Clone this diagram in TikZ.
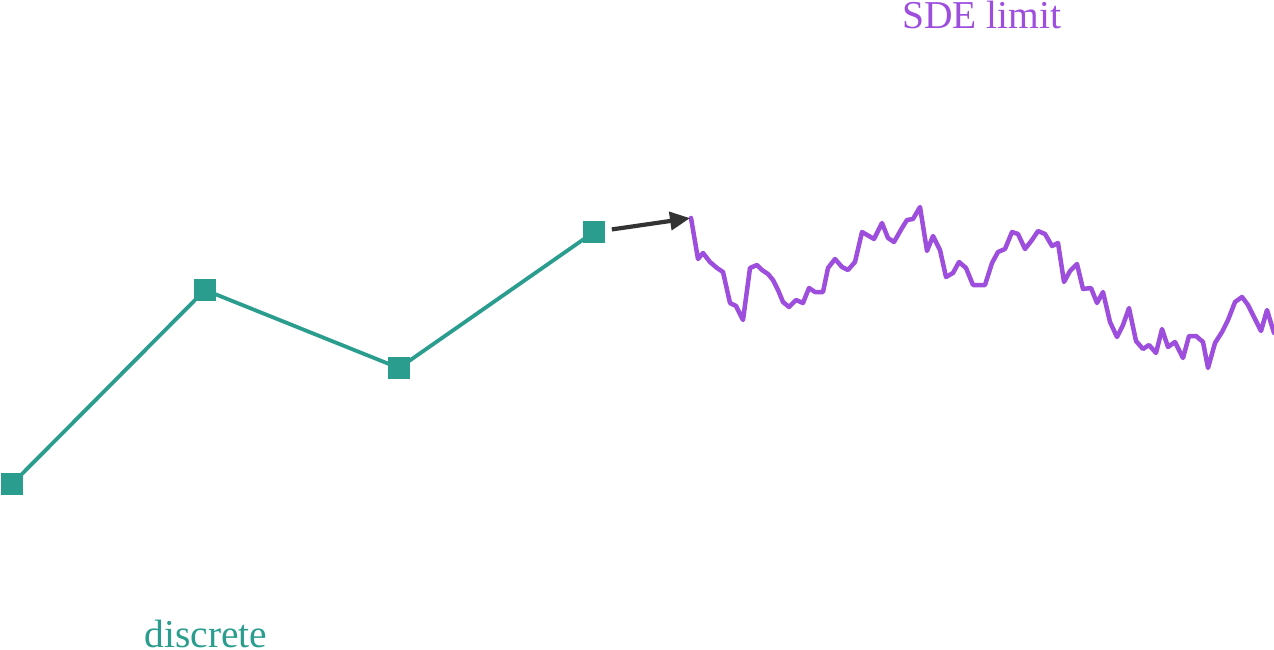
\documentclass[tikz,border=0pt]{standalone}
\usepackage{fontspec}
\setmainfont{Liberation Serif}
\usetikzlibrary{arrows.meta}
\definecolor{tealc}{HTML}{2A9D8F}
\definecolor{purp}{HTML}{9D4EDD}
\definecolor{arrc}{HTML}{333333}
\tikzset{
  sq/.style={fill=tealc, draw=none, minimum size=22pt, inner sep=0pt},
  tealline/.style={draw=tealc, line width=3.8pt},
  sdepath/.style={draw=purp, line width=4.5pt, line join=round, line cap=round},
  arr/.style={draw=arrc, line width=4.2pt, -{Triangle[length=20pt,width=18pt]}},
  lbl/.style={font=\fontsize{39.5pt}{44pt}\selectfont, anchor=base, inner sep=0pt}
}
\begin{document}
\begin{tikzpicture}[x=1pt,y=-1pt]
\useasboundingbox (0,0) rectangle (1274,650);
\coordinate (c1) at (12,484);
\coordinate (c2) at (205,290);
\coordinate (c3) at (399,368);
\coordinate (c4) at (594,232);
\path[tealline] (c1) -- (c2) -- (c3) -- (c4);
\node[sq] (d1) at (c1) {};
\node[sq] (d2) at (c2) {};
\node[sq] (d3) at (c3) {};
\node[sq] (d4) at (c4) {};
\coordinate (p0) at (691,218);
\draw[sdepath] (p0) -- (698,259) -- (703,253) -- (710,262) -- (717,268) -- (723,272) -- (730,303) -- (736,306) -- (743,320) -- (750,268) -- (757,265) -- (762,270) -- (768,274) -- (773,280) -- (778,290) -- (783,302) -- (789,307) -- (796,300) -- (803,303) -- (809,288) -- (815,292) -- (823,292) -- (828,268) -- (835,259) -- (842,267) -- (848,270) -- (855,262) -- (862,232) -- (874,239) -- (882,223) -- (888,238) -- (894,242) -- (902,228) -- (907,220) -- (913,219) -- (920,207) -- (927,251) -- (933,236) -- (940,250) -- (946,277) -- (953,273) -- (959,262) -- (966,268) -- (973,285) -- (985,285) -- (992,263) -- (998,252) -- (1005,249) -- (1012,232) -- (1018,234) -- (1025,249) -- (1032,240) -- (1038,231) -- (1045,234) -- (1052,246) -- (1058,243) -- (1064,282) -- (1070,271) -- (1077,264) -- (1083,289) -- (1091,288) -- (1097,303) -- (1103,292) -- (1110,322) -- (1117,337) -- (1123,325) -- (1129,308) -- (1136,341) -- (1143,349) -- (1149,345) -- (1156,353) -- (1162,329) -- (1168,347) -- (1175,342) -- (1183,358) -- (1189,336) -- (1196,336) -- (1203,342) -- (1208,368) -- (1215,343) -- (1222,332) -- (1228,320) -- (1235,302) -- (1242,297) -- (1248,305) -- (1261,331) -- (1267,310) -- (1274,333);
\draw[arr, shorten <=18pt, shorten >=1pt] (d4.center) -- (p0);
\node[lbl, text=purp] (sde) at (982,29) {SDE limit};
\node[lbl, text=tealc] (disc) at (206,647) {discrete};
\end{tikzpicture}
\end{document}
